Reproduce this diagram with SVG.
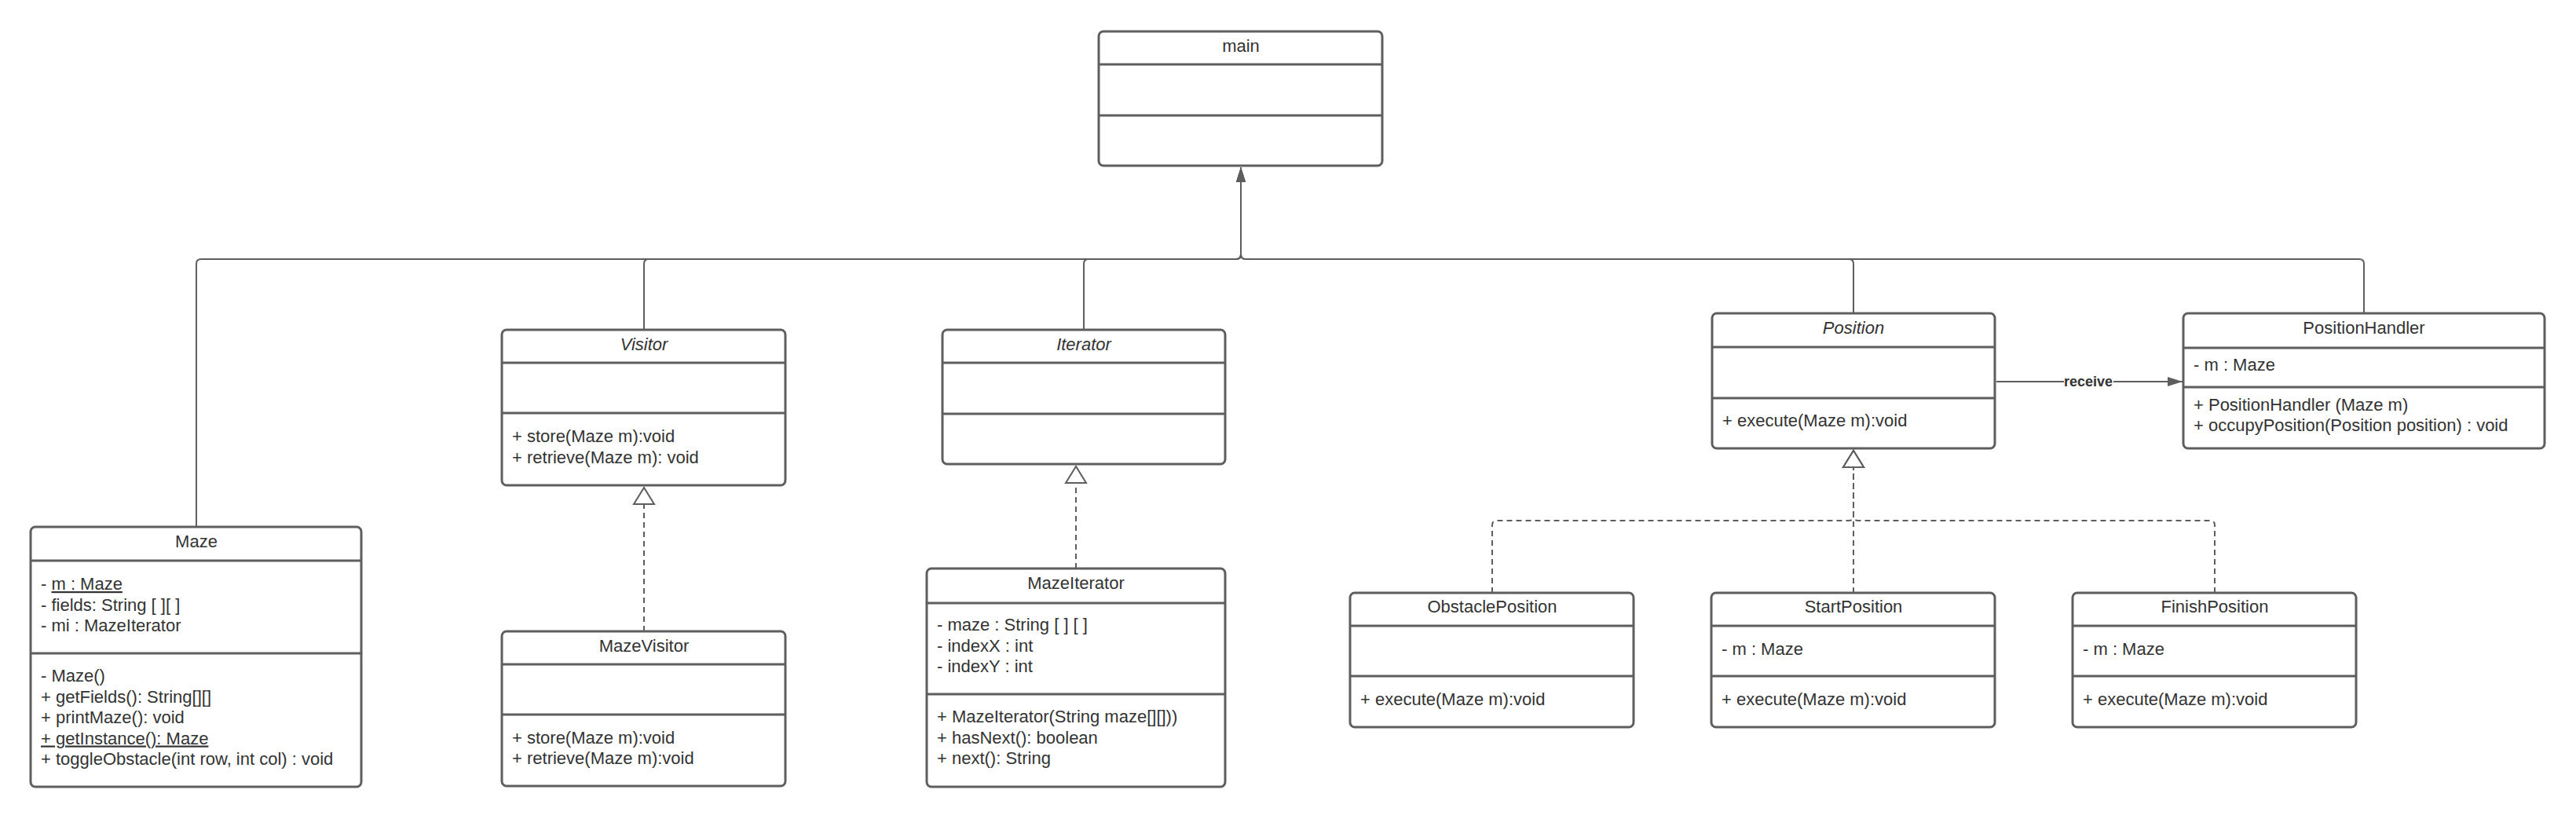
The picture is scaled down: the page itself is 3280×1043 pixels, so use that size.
<svg xmlns="http://www.w3.org/2000/svg" width="3280" height="1043" viewBox="0 0 3280 1043">
<style>
.bx{fill:#fff;stroke:#5e5e5e;stroke-width:3}
.dv{stroke:#5e5e5e;stroke-width:3}
text{font-family:"Liberation Sans",Arial,sans-serif;font-size:22px;fill:#333}
.ti{text-anchor:middle}
.it{font-style:italic}
.cn{fill:none;stroke:#5e5e5e;stroke-width:2}
.ds{stroke-dasharray:7 5}
.u{text-decoration:underline}
.lbl{font-size:18px;font-weight:bold;text-anchor:middle}
</style>
<defs>
<marker id="fa" markerUnits="userSpaceOnUse" markerWidth="20" markerHeight="14" refX="19" refY="7" orient="auto">
<path d="M0,1 L19,7 L0,13 z" fill="#5e5e5e" stroke="none"/>
</marker>
<marker id="ht" markerUnits="userSpaceOnUse" markerWidth="26" markerHeight="30" refX="23" refY="15" orient="auto">
<path d="M2,2 L23,15 L2,28 z" fill="#fff" stroke="#5e5e5e" stroke-width="2" stroke-dasharray="none"/>
</marker>
</defs>
<rect width="3280" height="1043" fill="#fff"/>

<g id="connectors">
<path class="cn" d="M250,671 V336 Q250,330 256,330 H1574 Q1580,330 1580,324 V213" marker-end="url(#fa)"/>
<path class="cn" d="M820,420 V336 Q820,330 826,330 H1574 Q1580,330 1580,324 V213" marker-end="url(#fa)"/>
<path class="cn" d="M1380,420 V336 Q1380,330 1386,330 H1574 Q1580,330 1580,324 V213" marker-end="url(#fa)"/>
<path class="cn" d="M2360,399 V336 Q2360,330 2354,330 H1586 Q1580,330 1580,324 V213" marker-end="url(#fa)"/>
<path class="cn" d="M3010,399 V336 Q3010,330 3004,330 H1586 Q1580,330 1580,324 V213" marker-end="url(#fa)"/>
<path class="cn ds" d="M820,804 V621" marker-end="url(#ht)"/>
<path class="cn ds" d="M1370,724 V594" marker-end="url(#ht)"/>
<path class="cn ds" d="M1900,755 V669 Q1900,663 1906,663 H2354 Q2360,663 2360,657 V574" marker-end="url(#ht)"/>
<path class="cn ds" d="M2360,755 V574" marker-end="url(#ht)"/>
<path class="cn ds" d="M2820,755 V669 Q2820,663 2814,663 H2366 Q2360,663 2360,657 V574" marker-end="url(#ht)"/>
<path class="cn" d="M2542,486 H2779" marker-end="url(#fa)"/>
<rect x="2628" y="476" width="63" height="20" fill="#fff"/>
<text class="lbl" x="2659" y="492">receive</text>
</g>

<g id="main">
<rect class="bx" x="1399" y="40" width="361" height="171" rx="6"/>
<line class="dv" x1="1399" y1="82" x2="1760" y2="82"/>
<line class="dv" x1="1399" y1="147" x2="1760" y2="147"/>
<text class="ti" x="1580" y="66">main</text>
</g>

<g id="maze">
<rect class="bx" x="39" y="671" width="421" height="331" rx="6"/>
<line class="dv" x1="39" y1="714" x2="460" y2="714"/>
<line class="dv" x1="39" y1="832" x2="460" y2="832"/>
<text class="ti" x="250" y="697">Maze</text>
<text x="52" y="751">- <tspan class="u">m : Maze</tspan></text>
<text x="52" y="778">- fields: String [ ][ ]</text>
<text x="52" y="804">- mi : MazeIterator</text>
<text x="52" y="868">- Maze()</text>
<text x="52" y="894.5">+ getFields(): String[][]</text>
<text x="52" y="921">+ printMaze(): void</text>
<text x="52" y="947.5" class="u">+ getInstance(): Maze</text>
<text x="52" y="974">+ toggleObstacle(int row, int col) : void</text>
</g>

<g id="visitor">
<rect class="bx" x="639" y="420" width="361" height="198" rx="6"/>
<line class="dv" x1="639" y1="462" x2="1000" y2="462"/>
<line class="dv" x1="639" y1="526" x2="1000" y2="526"/>
<text class="ti it" x="820" y="446">Visitor</text>
<text x="652" y="563">+ store(Maze m):void</text>
<text x="652" y="590">+ retrieve(Maze m): void</text>
</g>

<g id="mazevisitor">
<rect class="bx" x="639" y="804" width="361" height="197" rx="6"/>
<line class="dv" x1="639" y1="846" x2="1000" y2="846"/>
<line class="dv" x1="639" y1="910" x2="1000" y2="910"/>
<text class="ti" x="820" y="830">MazeVisitor</text>
<text x="652" y="947">+ store(Maze m):void</text>
<text x="652" y="973">+ retrieve(Maze m):void</text>
</g>

<g id="iterator">
<rect class="bx" x="1200" y="420" width="360" height="171" rx="6"/>
<line class="dv" x1="1200" y1="462" x2="1560" y2="462"/>
<line class="dv" x1="1200" y1="527" x2="1560" y2="527"/>
<text class="ti it" x="1380" y="446">Iterator</text>
</g>

<g id="mazeiterator">
<rect class="bx" x="1180" y="724" width="380" height="278" rx="6"/>
<line class="dv" x1="1180" y1="768" x2="1560" y2="768"/>
<line class="dv" x1="1180" y1="884" x2="1560" y2="884"/>
<text class="ti" x="1370" y="750">MazeIterator</text>
<text x="1193" y="803">- maze : String [ ] [ ]</text>
<text x="1193" y="830">- indexX : int</text>
<text x="1193" y="856">- indexY : int</text>
<text x="1193" y="920">+ MazeIterator(String maze[][]))</text>
<text x="1193" y="947">+ hasNext(): boolean</text>
<text x="1193" y="973">+ next(): String</text>
</g>

<g id="position">
<rect class="bx" x="2180" y="399" width="360" height="172" rx="6"/>
<line class="dv" x1="2180" y1="442" x2="2540" y2="442"/>
<line class="dv" x1="2180" y1="507" x2="2540" y2="507"/>
<text class="ti it" x="2360" y="425">Position</text>
<text x="2193" y="543">+ execute(Maze m):void</text>
</g>

<g id="positionhandler">
<rect class="bx" x="2780" y="399" width="460" height="172" rx="6"/>
<line class="dv" x1="2780" y1="443" x2="3240" y2="443"/>
<line class="dv" x1="2780" y1="493" x2="3240" y2="493"/>
<text class="ti" x="3010" y="425">PositionHandler</text>
<text x="2793" y="472">- m : Maze</text>
<text x="2793" y="523">+ PositionHandler (Maze m)</text>
<text x="2793" y="549">+ occupyPosition(Position position) : void</text>
</g>

<g id="obstacleposition">
<rect class="bx" x="1719" y="755" width="361" height="171" rx="6"/>
<line class="dv" x1="1719" y1="797" x2="2080" y2="797"/>
<line class="dv" x1="1719" y1="861" x2="2080" y2="861"/>
<text class="ti" x="1900" y="780">ObstaclePosition</text>
<text x="1732" y="898">+ execute(Maze m):void</text>
</g>

<g id="startposition">
<rect class="bx" x="2179" y="755" width="361" height="171" rx="6"/>
<line class="dv" x1="2179" y1="797" x2="2540" y2="797"/>
<line class="dv" x1="2179" y1="861" x2="2540" y2="861"/>
<text class="ti" x="2360" y="780">StartPosition</text>
<text x="2192" y="834">- m : Maze</text>
<text x="2192" y="898">+ execute(Maze m):void</text>
</g>

<g id="finishposition">
<rect class="bx" x="2639" y="755" width="361" height="171" rx="6"/>
<line class="dv" x1="2639" y1="797" x2="3000" y2="797"/>
<line class="dv" x1="2639" y1="861" x2="3000" y2="861"/>
<text class="ti" x="2820" y="780">FinishPosition</text>
<text x="2652" y="834">- m : Maze</text>
<text x="2652" y="898">+ execute(Maze m):void</text>
</g>
</svg>
